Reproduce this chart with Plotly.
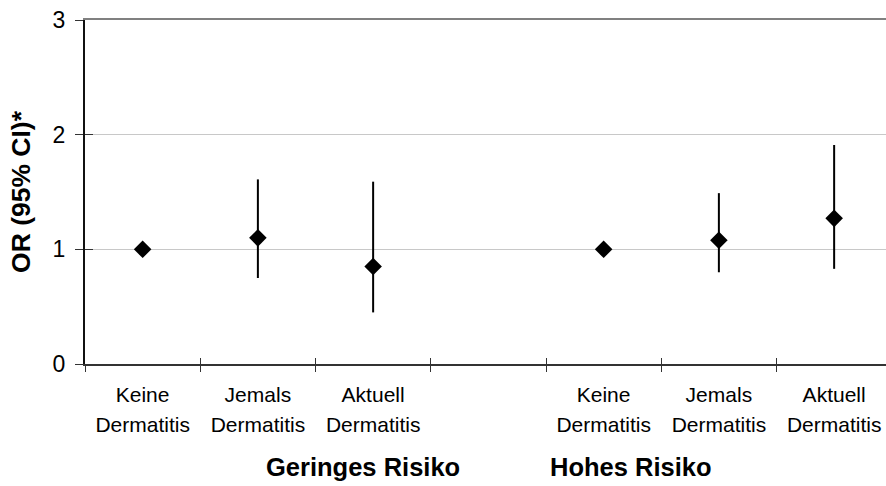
import plotly.graph_objects as go

# Category slots along the x axis (slot 3 is an empty spacer between the two risk groups)
slot_line1 = ["Keine", "Jemals", "Aktuell", "", "Keine", "Jemals", "Aktuell"]
slot_line2 = ["Dermatitis", "Dermatitis", "Dermatitis", "", "Dermatitis", "Dermatitis", "Dermatitis"]
slot_index = [0, 1, 2, 3, 4, 5, 6]

# Odds ratios with 95% confidence intervals
point_slots = [0, 1, 2, 4, 5, 6]
or_values = [1.00, 1.10, 0.85, 1.00, 1.08, 1.27]
ci_low = [1.00, 0.75, 0.45, 1.00, 0.80, 0.83]
ci_high = [1.00, 1.61, 1.59, 1.00, 1.49, 1.91]

# Group captions below the category labels
group_names = ["Geringes Risiko", "Hohes Risiko"]
group_x = [1.91, 4.24]

y_ticks = [0, 1, 2, 3]

FONT = "Liberation Sans, Arial, Helvetica, sans-serif"
x_range = [-0.5, 6.45]
boundaries = [s - 0.5 for s in slot_index]

err_plus = [h - v for h, v in zip(ci_high, or_values)]
err_minus = [v - l for v, l in zip(or_values, ci_low)]

fig = go.Figure()
fig.add_trace(go.Scatter(
    x=point_slots, y=or_values, mode="markers",
    marker=dict(symbol="diamond", size=13.5, color="black"),
    error_y=dict(type="data", symmetric=False, array=err_plus, arrayminus=err_minus,
                 color="black", thickness=2, width=0),
    showlegend=False, cliponaxis=False,
))

# empty traces so the overlay axes (extra tick marks, labels, top frame) get drawn
for xa, ya in [("x2", "y"), ("x3", "y"), ("x4", "y"), ("x5", "y"), ("x", "y2")]:
    fig.add_trace(go.Scatter(x=[None], y=[None], xaxis=xa, yaxis=ya, mode="markers",
                             showlegend=False, hoverinfo="skip"))

label_font = dict(size=21, family=FONT, color="black")


def label_axis(texts, standoff):
    return dict(overlaying="x", anchor="y", side="bottom", range=x_range,
                tickmode="array", tickvals=slot_index, ticktext=texts,
                ticks="", tickfont=label_font, ticklabelstandoff=standoff,
                showline=False, showgrid=False, zeroline=False)


fig.update_layout(
    width=886, height=486,
    margin=dict(l=85, r=0, t=20, b=122),
    paper_bgcolor="white", plot_bgcolor="white",
    font=dict(family=FONT, color="black"),
    # outer tick marks and axis line at the slot boundaries
    xaxis=dict(range=x_range, tickmode="array", tickvals=boundaries, showticklabels=False,
               ticks="outside", ticklen=6, tickwidth=1, tickcolor="#333333",
               showline=True, linecolor="#333333", linewidth=2,
               showgrid=False, zeroline=False),
    # inner half of the crossing tick marks
    xaxis2=dict(overlaying="x", anchor="y", side="bottom", range=x_range,
                tickmode="array", tickvals=boundaries, showticklabels=False,
                ticks="inside", ticklen=6, tickwidth=1, tickcolor="#333333",
                showline=False, showgrid=False, zeroline=False),
    # two-line category labels centred in their slots
    xaxis3=label_axis(slot_line1, 16),
    xaxis5=label_axis(slot_line2, 46),
    # gray frame line across the top of the plot area
    xaxis4=dict(overlaying="x", anchor="y", side="top", range=x_range,
                showticklabels=False, ticks="", showline=True,
                linecolor="#808080", linewidth=2, showgrid=False, zeroline=False),
    yaxis=dict(range=[0, 3], tickmode="array", tickvals=y_ticks,
               ticks="outside", ticklen=8, tickwidth=1, tickcolor="#333333",
               tickfont=dict(size=23, family=FONT, color="black"),
               ticklabelstandoff=5,
               showline=True, linecolor="#111111", linewidth=2,
               showgrid=True, gridcolor="#c8c8c8", gridwidth=1, zeroline=False,
               title=dict(text="<b>OR (95% CI)*</b>",
                          font=dict(size=26.5, family=FONT, color="black"),
                          standoff=14)),
    yaxis2=dict(overlaying="y", anchor="x", side="left", range=[0, 3],
                tickmode="array", tickvals=y_ticks, showticklabels=False,
                ticks="inside", ticklen=8, tickwidth=1, tickcolor="#333333",
                showline=False, showgrid=False, zeroline=False),
)

for name, gx in zip(group_names, group_x):
    fig.add_annotation(x=gx, xref="x", y=-0.30, yref="paper", text=f"<b>{name}</b>",
                       showarrow=False, xanchor="center", yanchor="middle",
                       font=dict(size=25.5, family=FONT, color="black"))

fig.write_html("out.html")
